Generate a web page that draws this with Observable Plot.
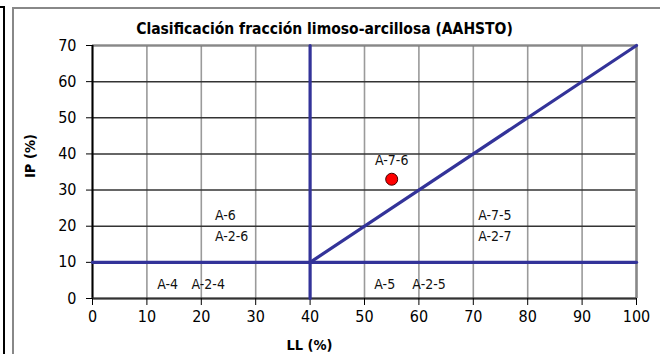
<!DOCTYPE html>
<html>
<head>
<meta charset="utf-8">
<script src="https://cdn.jsdelivr.net/npm/d3@7"></script>
<script src="https://cdn.jsdelivr.net/npm/@observablehq/plot@0.6"></script>
<style>
  html, body { margin: 0; padding: 0; background: #fff; }
  #wrap { position: relative; width: 660px; height: 354px; overflow: hidden; }
  #b1 { position: absolute; left: -2px; top: 6px; width: 5px; height: 360px; border: 2px solid #000; border-left: none; box-sizing: content-box; }
  #b2 { position: absolute; left: 12px; top: 7px; width: 700px; height: 400px; border-left: 2px solid #888; border-top: 2px solid #888; }
  #chart { position: absolute; left: 0; top: 0; }
</style>
</head>
<body>
<div id="wrap">
  <div id="b1"></div>
  <div id="b2"></div>
  <div id="chart"></div>
</div>
<script>
// Axis ticks
const xTicks = [0, 10, 20, 30, 40, 50, 60, 70, 80, 90, 100];
const yTicks = [0, 10, 20, 30, 40, 50, 60, 70];

// Classification boundary lines (LL, IP)
const lineHoriz = [[0, 10], [100, 10]];      // IP = 10
const lineVert = [[40, 0], [40, 70]];        // LL = 40
const lineDiag = [[40, 10], [100, 70]];      // IP = LL - 30

// Sample point
const sampleLL = [55];
const sampleIP = [33];
const sampleName = ["A-7-6"];

// Zone labels
const zoneNames = ["A-6", "A-2-6", "A-4", "A-2-4", "A-5", "A-2-5", "A-7-5", "A-2-7"];
const zoneLL = [22.5, 22.5, 11.9, 18.2, 51.8, 58.8, 70.9, 70.9];
const zoneIP = [23.0, 17.2, 3.9, 3.9, 3.9, 3.9, 23.0, 17.2];

const FONT = "'Liberation Sans Narrow', 'DejaVu Sans Condensed', sans-serif";
const BLUE = "#333399";

const zones = zoneNames.map((n, i) => ({name: n, x: zoneLL[i], y: zoneIP[i]}));
const pts = sampleLL.map((x, i) => ({x, y: sampleIP[i], name: sampleName[i]}));

const chart = Plot.plot({
  width: 660,
  height: 354,
  marginLeft: 92,
  marginRight: 24,
  marginTop: 45,
  marginBottom: 56,
  style: {fontFamily: FONT, fontSize: "16px", background: "transparent", color: "#000", overflow: "visible"},
  x: {domain: [0, 100]},
  y: {domain: [0, 70]},
  marks: [
    Plot.gridX(xTicks, {stroke: "#9a9a9a", strokeOpacity: 1, strokeWidth: 1.6}),
    Plot.gridY(yTicks, {stroke: "#333", strokeOpacity: 1, strokeWidth: 1.5}),
    Plot.ruleY([70], {stroke: "#888", strokeWidth: 2}),
    Plot.ruleX([100], {stroke: "#888", strokeWidth: 2.5}),
    Plot.ruleX([0], {stroke: "#000", strokeWidth: 2}),
    Plot.ruleY([0], {stroke: "#333", strokeWidth: 2}),
    Plot.axisX(xTicks, {tickSize: 7, tickPadding: 5, label: null, fontSize: 16, stroke: "#000"}),
    Plot.axisY(yTicks, {tickSize: 6, tickPadding: 10, label: null, fontSize: 16, stroke: "#000"}),
    Plot.line(lineHoriz, {x: d => d[0], y: d => d[1], stroke: BLUE, strokeWidth: 3.2}),
    Plot.line(lineVert, {x: d => d[0], y: d => d[1], stroke: BLUE, strokeWidth: 3.2}),
    Plot.line(lineDiag, {x: d => d[0], y: d => d[1], stroke: BLUE, strokeWidth: 3.2}),
    Plot.dot(pts, {x: "x", y: "y", r: 6, fill: "#ff0000", stroke: "#400", strokeWidth: 1}),
    Plot.text(pts, {x: "x", y: "y", text: "name", dy: -19, fontSize: 14, fill: "#111"}),
    Plot.text(zones, {x: "x", y: "y", text: "name", textAnchor: "start", fontSize: 14, fill: "#111"}),
    Plot.text(["Clasificación fracción limoso-arcillosa (AAHSTO)"], {frameAnchor: "top", dx: -40, dy: -16, fontSize: 15.5, fontWeight: "bold", lineAnchor: "middle"}),
    Plot.text(["LL (%)"], {frameAnchor: "bottom", dx: -55, dy: 47, fontSize: 14.5, fontWeight: "bold", lineAnchor: "middle"}),
    Plot.text(["IP (%)"], {frameAnchor: "left", dx: -62, dy: 6, rotate: -90, fontSize: 14.5, fontWeight: "bold", lineAnchor: "middle"})
  ]
});
document.getElementById("chart").appendChild(chart);
</script>
</body>
</html>
